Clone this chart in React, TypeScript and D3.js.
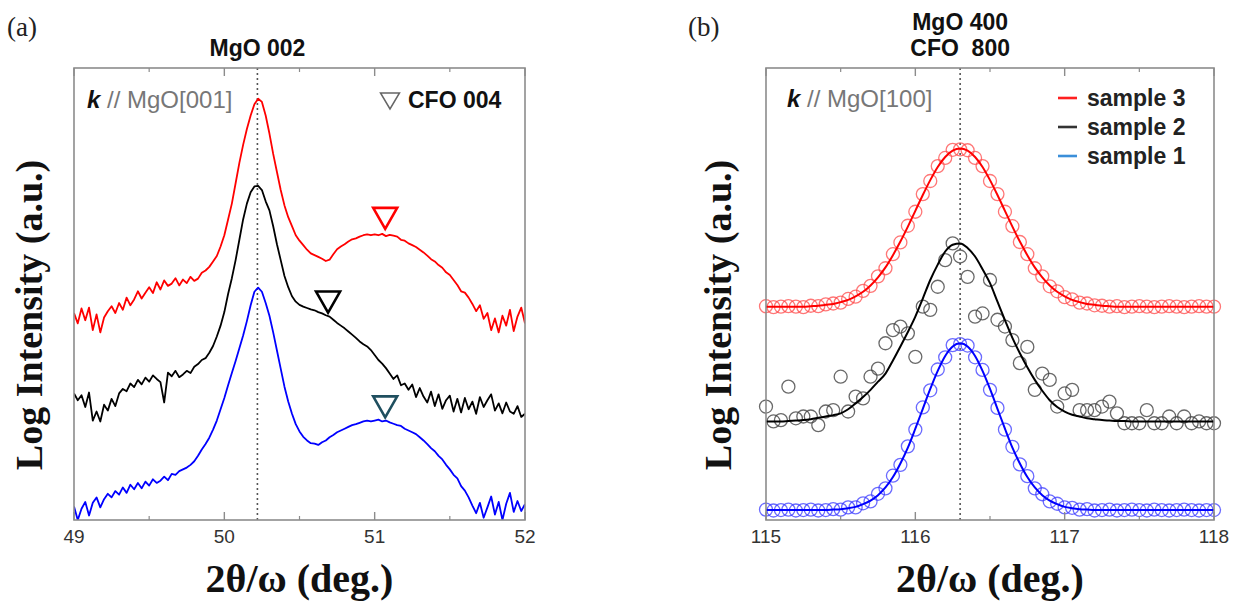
import React from 'react';
import * as d3 from 'd3';

// ---- panel (a): 2θ/ω scans around MgO 002, sampled every 0.025 deg from 49.0 ----
const scanStart = 49.0;
const scanStep = 0.025;

const sample3Scan = [
  45.8, 43.5, 46.8, 44.2, 47.0, 42.0, 45.5, 41.5, 44.8, 46.2,
  47.3, 45.8, 48.0, 46.5, 49.2, 47.5, 48.8, 50.6, 49.0, 50.3,
  51.5, 50.2, 52.6, 51.0, 53.0, 51.8, 52.3, 53.5, 51.9, 53.2,
  52.4, 53.8, 52.9, 53.4, 54.7, 55.2, 56.0, 57.2, 58.4, 60.5,
  63.0, 66.5, 70.0, 74.5, 79.0, 83.0, 86.5, 89.5, 92.0, 93.2,
  92.5, 89.5, 85.5, 81.0, 77.0, 73.0, 69.6, 67.0, 65.0, 63.0,
  61.8, 60.8, 59.8, 59.0, 58.6, 58.2, 57.8, 57.3, 57.6, 58.8,
  59.9, 60.5, 61.0, 61.6, 62.1, 62.3, 62.7, 63.0, 63.2, 63.0,
  63.2, 63.0, 63.3, 62.8, 63.1, 62.9, 62.7, 62.0, 61.8, 61.2,
  60.8, 60.4, 59.8, 59.2, 58.5, 57.7, 57.2, 56.4, 55.8, 54.8,
  54.2, 53.1, 52.0, 50.6, 50.3, 49.2, 47.8, 46.2, 47.5, 44.5,
  45.8, 42.0, 44.6, 41.5, 45.2, 43.0, 46.5, 41.8, 45.0, 47.0,
  43.5,
];

const sample2Scan = [
  28.0, 26.5, 27.6, 25.0, 28.2, 22.0, 24.0, 21.8, 25.5, 24.2,
  26.8, 25.2, 28.0, 29.0, 28.5, 30.2, 29.4, 31.0, 30.0, 31.5,
  30.6, 32.0, 31.2, 30.5, 26.0, 32.6, 31.8, 33.0, 31.6, 32.2,
  33.0, 32.5, 33.9, 34.5, 35.4, 35.8, 37.0, 38.5, 40.6, 43.0,
  46.0, 50.0, 53.5, 57.5, 62.0, 66.5, 70.0, 72.5, 73.8, 73.9,
  73.0, 70.5, 68.5, 65.0, 61.0, 57.5, 54.0, 51.5, 49.5, 48.3,
  47.6, 47.2, 46.9, 46.6, 46.4, 46.0, 45.7, 45.3, 45.0, 44.3,
  43.6, 43.0, 42.4, 41.7, 41.0, 40.3, 39.5, 38.9, 38.4, 37.6,
  36.5, 35.4, 34.6, 33.6, 32.4, 31.2, 32.0, 29.8, 30.2, 28.8,
  30.0, 27.2, 29.2, 27.3, 26.0, 28.4, 25.2, 27.8, 24.6, 26.5,
  27.5, 24.0, 26.8, 23.8, 27.0, 24.5, 26.2, 23.5, 27.2, 25.0,
  26.5, 27.8, 24.2, 25.8, 23.6, 26.0, 24.0, 23.5, 25.2, 22.8,
  23.5,
];

const sample1Scan = [
  3.0, 0.0, 2.5, 4.0, 1.0, 3.8, 5.0, 2.8, 4.6, 5.8,
  5.0, 6.4, 5.6, 7.2, 6.0, 7.8, 6.8, 8.2, 7.0, 8.5,
  7.6, 9.0, 8.2, 8.7, 9.6, 8.8, 10.2, 10.0, 10.8, 11.2,
  11.6, 12.2, 13.0, 14.2, 15.6, 16.8, 18.2, 20.0, 22.0, 24.5,
  27.0, 29.8, 32.5, 35.2, 38.0, 40.8, 44.0, 47.5, 50.5, 51.4,
  50.5, 48.0, 45.2, 41.5, 37.5, 33.5, 29.5, 26.2, 23.5, 21.2,
  19.6, 18.4, 17.6, 17.0, 16.9, 16.6, 17.2, 17.6, 18.3, 18.8,
  19.4, 19.8, 20.2, 20.6, 21.0, 21.2, 21.5, 21.8, 22.0, 21.8,
  22.0, 22.2, 21.8, 22.0, 21.6, 21.3, 21.0, 20.8, 20.2, 19.8,
  19.4, 19.0, 18.3, 17.6, 16.8, 15.9, 15.2, 14.2, 13.4, 12.2,
  11.2, 10.0, 9.2, 7.5, 6.5, 5.0, 3.2, 1.5, 3.8, 0.5,
  2.8, 5.2, 1.2, 4.0, 0.0, 3.6, 6.0, 1.8, 4.2, 2.0,
  3.5,
];

// CFO 004 markers: [2θ, intensity at triangle tip]
const cfoMarks = [
  { pos: [51.07, 64.4], color: '#ff0000' },
  { pos: [50.69, 45.9], color: '#000000' },
  { pos: [51.07, 22.7], color: '#1f4f5f' },
];

const mgo002 = 50.22;

// ---- panel (b): MgO 400 / CFO 800, sampled every 0.05 deg from 115.0 ----
const rockStart = 115.0;
const rockStep = 0.05;

const sample3Fit = [
  47.2, 47.2, 47.2, 47.2, 47.2, 47.2, 47.3, 47.4, 47.6, 47.8,
  48.2, 48.7, 49.5, 50.5, 51.9, 53.7, 55.9, 58.6, 61.6, 64.9,
  68.4, 71.9, 75.2, 78.1, 80.3, 81.7, 82.2, 81.7, 80.3, 78.1,
  75.2, 71.9, 68.4, 64.9, 61.6, 58.6, 55.9, 53.7, 51.9, 50.5,
  49.5, 48.7, 48.2, 47.8, 47.6, 47.4, 47.3, 47.2, 47.2, 47.2,
  47.2, 47.2, 47.2, 47.2, 47.2, 47.2, 47.2, 47.2, 47.2, 47.2,
  47.2,
];
const sample3Points = [
  47.3, 47.1, 47.2, 47.3, 47.2, 47.1, 47.4, 47.3, 47.7, 47.9,
  48.1, 48.9, 49.4, 50.7, 51.8, 53.9, 55.7, 58.8, 61.4, 65.1,
  68.2, 72.1, 75.0, 78.3, 80.1, 81.9, 82.0, 81.8, 80.1, 78.3,
  75.0, 72.1, 68.2, 65.0, 61.5, 58.8, 55.7, 53.9, 51.7, 50.6,
  49.3, 48.8, 48.1, 47.9, 47.5, 47.4, 47.2, 47.3, 47.1, 47.2,
  47.3, 47.2, 47.1, 47.2, 47.3, 47.2, 47.1, 47.2, 47.3, 47.2,
  47.2,
];

const sample2Fit = [
  21.8, 21.8, 21.8, 21.9, 22.0, 22.1, 22.3, 22.6, 22.9, 23.2,
  23.6, 24.5, 25.8, 27.2, 28.8, 30.6, 32.4, 35.3, 38.4, 41.6,
  45.0, 49.0, 53.1, 56.5, 59.4, 60.9, 61.2, 60.2, 58.3, 55.5,
  52.4, 48.3, 44.2, 40.3, 36.9, 33.8, 31.0, 28.6, 26.5, 25.0,
  24.0, 23.3, 22.9, 22.5, 22.3, 22.1, 22.0, 21.9, 21.9, 21.8,
  21.8, 21.8, 21.8, 21.8, 21.8, 21.8, 21.8, 21.8, 21.8, 21.8,
  21.8,
];
const sample2Points = [
  25.1, 21.8, 22.1, 29.5, 22.5, 22.9, 22.9, 21.0, 24.0, 24.3,
  31.7, 24.0, 27.3, 26.9, 31.7, 33.5, 39.1, 42.0, 42.8, 41.3,
  36.1, 47.2, 46.5, 51.6, 57.5, 61.2, 58.3, 53.8, 45.0, 45.7,
  53.1, 44.3, 42.8, 39.8, 34.7, 38.3, 28.8, 32.4, 31.0, 25.1,
  28.0, 28.8, 24.3, 24.3, 24.3, 25.1, 26.2, 23.6, 21.4, 21.4,
  21.4, 24.3, 21.4, 21.4, 22.9, 21.4, 22.9, 21.4, 21.8, 21.4,
  21.4,
];

const sample1Fit = [
  2.2, 2.2, 2.2, 2.2, 2.2, 2.2, 2.2, 2.2, 2.2, 2.3,
  2.4, 2.6, 2.9, 3.5, 4.3, 5.5, 7.2, 9.5, 12.5, 16.0,
  20.2, 24.6, 29.0, 33.0, 36.3, 38.4, 39.1, 38.4, 36.3, 33.0,
  29.0, 24.6, 20.2, 16.0, 12.5, 9.5, 7.2, 5.5, 4.3, 3.5,
  2.9, 2.6, 2.4, 2.3, 2.2, 2.2, 2.2, 2.2, 2.2, 2.2,
  2.2, 2.2, 2.2, 2.2, 2.2, 2.2, 2.2, 2.2, 2.2, 2.2,
  2.2,
];
const sample1Points = [
  2.3, 2.1, 2.2, 2.3, 2.1, 2.2, 2.3, 2.1, 2.2, 2.4,
  2.3, 2.8, 2.8, 3.7, 4.1, 5.8, 7.0, 9.8, 12.2, 16.3,
  20.0, 24.9, 28.7, 33.3, 36.0, 38.7, 38.9, 38.6, 36.0, 33.2,
  28.8, 24.8, 20.0, 16.2, 12.3, 9.7, 7.0, 5.7, 4.1, 3.6,
  2.8, 2.7, 2.3, 2.4, 2.1, 2.2, 2.3, 2.1, 2.2, 2.3,
  2.2, 2.1, 2.3, 2.2, 2.1, 2.2, 2.3, 2.2, 2.1, 2.2,
  2.2,
];

const mgo400 = 116.3;

const legendItems = [
  { label: 'sample 3', color: '#ff2020' },
  { label: 'sample 2', color: '#333333' },
  { label: 'sample 1', color: '#3b8fd9' },
];

const ticksA = [49, 50, 51, 52];
const ticksB = [115, 116, 117, 118];

const W = 1240;
const H = 602;
const TOP = 68;
const BOTTOM = 520;
const sans = '"Liberation Sans", Arial, sans-serif';
const serif = '"Liberation Serif", "Times New Roman", serif';
const frameColor = '#8c8c8c';

const toSeries = (vals: number[], start: number, step: number) =>
  vals.map((v, i) => [start + i * step, v] as [number, number]);

function Frame({ x, domain, ticks, id }: any) {
  const [x0, x1] = x.range();
  const minor = d3.range(domain[0], domain[1] + 0.001, 0.5).filter((t: number) => !ticks.includes(t));
  return (
    <g>
      <rect x={x0} y={TOP} width={x1 - x0} height={BOTTOM - TOP} fill="none" stroke={frameColor} strokeWidth={1.6} />
      {ticks.map((t: number) => (
        <g key={id + 'M' + t}>
          <line x1={x(t)} x2={x(t)} y1={BOTTOM} y2={BOTTOM - 8} stroke={frameColor} strokeWidth={1.4} />
          <line x1={x(t)} x2={x(t)} y1={TOP} y2={TOP + 8} stroke={frameColor} strokeWidth={1.4} />
          <text x={x(t)} y={543} textAnchor="middle" fontFamily={sans} fontSize={19} fill="#333">{t}</text>
        </g>
      ))}
      {minor.map((t: number) => (
        <g key={id + 'm' + t}>
          <line x1={x(t)} x2={x(t)} y1={BOTTOM} y2={BOTTOM - 4} stroke={frameColor} strokeWidth={1.2} />
          <line x1={x(t)} x2={x(t)} y1={TOP} y2={TOP + 4} stroke={frameColor} strokeWidth={1.2} />
        </g>
      ))}
      <text x={(x0 + x1) / 2} y={592} textAnchor="middle" fontFamily={serif} fontWeight="bold" fontSize={40} fill="#111">
        2θ/ω (deg.)
      </text>
    </g>
  );
}

export default function App() {
  // panel (a)
  const xa = d3.scaleLinear().domain([49, 52]).range([74, 525]);
  const ya = d3.scaleLinear().domain([0, 100]).range([BOTTOM, TOP]);
  const lineA = d3.line<[number, number]>().x((d) => xa(d[0])).y((d) => ya(d[1]));
  const scansA = [
    { vals: sample3Scan, color: '#ff0000' },
    { vals: sample2Scan, color: '#000000' },
    { vals: sample1Scan, color: '#0000ff' },
  ];

  // panel (b)
  const xb = d3.scaleLinear().domain([115, 118]).range([766, 1214]);
  const yb = d3.scaleLinear().domain([0, 100]).range([BOTTOM, TOP]);
  const lineB = d3
    .line<[number, number]>()
    .x((d) => xb(d[0]))
    .y((d) => yb(d[1]))
    .curve(d3.curveMonotoneX);
  const setsB = [
    { pts: sample3Points, fit: sample3Fit, dot: '#ff4a4a', line: '#ff0000', op: 0.75 },
    { pts: sample2Points, fit: sample2Fit, dot: '#444444', line: '#000000', op: 0.8 },
    { pts: sample1Points, fit: sample1Fit, dot: '#3a3aff', line: '#0000ff', op: 0.75 },
  ];

  const tri = (cx: number, tipY: number, w: number, h: number) =>
    `M${cx - w / 2},${tipY - h} L${cx + w / 2},${tipY - h} L${cx},${tipY} Z`;

  return (
    <svg width={W} height={H} style={{ display: 'block', position: 'absolute', left: 0, top: 0, background: '#fff' }}>
      <defs>
        <clipPath id="clipA">
          <rect x={74} y={TOP} width={451} height={BOTTOM - TOP} />
        </clipPath>
      </defs>

      {/* ----- panel (a) ----- */}
      <text x={7} y={36} fontFamily={serif} fontSize={27} fill="#222">(a)</text>
      <text x={xa(mgo002)} y={56} textAnchor="middle" fontFamily={sans} fontWeight="bold" fontSize={23} fill="#111">MgO 002</text>
      <text transform="translate(42,315) rotate(-90)" textAnchor="middle" fontFamily={serif} fontWeight="bold" fontSize={38} fill="#111">
        Log Intensity (a.u.)
      </text>
      <line x1={xa(mgo002)} x2={xa(mgo002)} y1={TOP} y2={BOTTOM} stroke="#555" strokeWidth={1.6} strokeDasharray="2,3" />
      <g clipPath="url(#clipA)">
        {scansA.map((s, i) => (
          <path key={'a' + i} d={lineA(toSeries(s.vals, scanStart, scanStep)) || ''} fill="none" stroke={s.color} strokeWidth={1.8} strokeLinejoin="round" />
        ))}
      </g>
      {cfoMarks.map((m, i) => (
        <path key={'t' + i} d={tri(xa(m.pos[0]), ya(m.pos[1]), 24, 21)} fill="none" stroke={m.color} strokeWidth={2.6} strokeLinejoin="miter" />
      ))}
      <text x={87} y={108} fontFamily={sans} fontSize={24} fill="#777">
        <tspan fontWeight="bold" fontStyle="italic" fill="#111">k</tspan>
        <tspan> // MgO[001]</tspan>
      </text>
      <path d={tri(390, 109, 19, 16)} fill="none" stroke="#666" strokeWidth={1.5} />
      <text x={408} y={108} fontFamily={sans} fontWeight="bold" fontSize={23} fill="#111">CFO 004</text>
      <Frame x={xa} domain={[49, 52]} ticks={ticksA} id="a" />

      {/* ----- panel (b) ----- */}
      <text x={688} y={36} fontFamily={serif} fontSize={27} fill="#222">(b)</text>
      <text x={xb(mgo400)} y={30} textAnchor="middle" fontFamily={sans} fontWeight="bold" fontSize={23} fill="#111">MgO 400</text>
      <text x={xb(mgo400)} y={56} textAnchor="middle" fontFamily={sans} fontWeight="bold" fontSize={23} fill="#111" xmlSpace="preserve">CFO  800</text>
      <text transform="translate(731,315) rotate(-90)" textAnchor="middle" fontFamily={serif} fontWeight="bold" fontSize={38} fill="#111">
        Log Intensity (a.u.)
      </text>
      <line x1={xb(mgo400)} x2={xb(mgo400)} y1={TOP} y2={BOTTOM} stroke="#555" strokeWidth={1.6} strokeDasharray="2,3" />
      {setsB.map((s, i) => (
        <g key={'b' + i}>
          {toSeries(s.pts, rockStart, rockStep).map((p, j) => (
            <circle key={j} cx={xb(p[0])} cy={yb(p[1])} r={6.5} fill="none" stroke={s.dot} strokeOpacity={s.op} strokeWidth={1.3} />
          ))}
          <path d={lineB(toSeries(s.fit, rockStart, rockStep)) || ''} fill="none" stroke={s.line} strokeWidth={2} />
        </g>
      ))}
      <text x={787} y={107} fontFamily={sans} fontSize={24} fill="#777">
        <tspan fontWeight="bold" fontStyle="italic" fill="#111">k</tspan>
        <tspan> // MgO[100]</tspan>
      </text>
      {legendItems.map((it, i) => (
        <g key={'l' + i}>
          <line x1={1058} x2={1077} y1={98 + i * 29} y2={98 + i * 29} stroke={it.color} strokeWidth={2.6} />
          <text x={1087} y={98 + i * 29 + 8} fontFamily={sans} fontWeight="bold" fontSize={23} fill="#222">{it.label}</text>
        </g>
      ))}
      <Frame x={xb} domain={[115, 118]} ticks={ticksB} id="b" />
    </svg>
  );
}
